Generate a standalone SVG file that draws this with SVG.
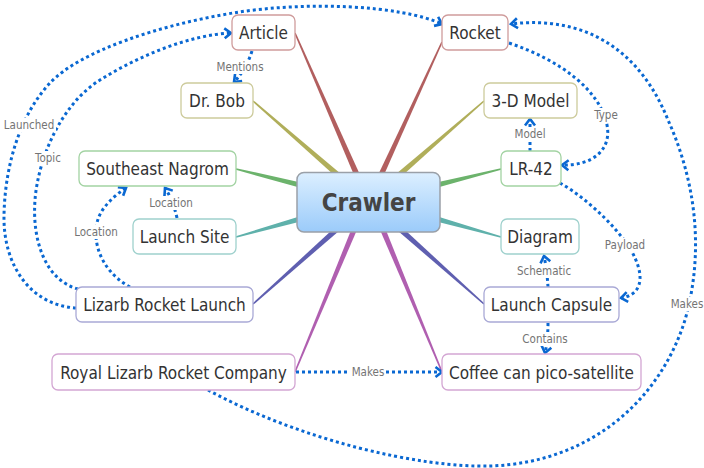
<svg xmlns="http://www.w3.org/2000/svg" width="704" height="468" viewBox="0 0 704 468">
<style>
.n rect{fill:#fff;stroke-width:1.3}
.n text{font-family:'DejaVu Sans Condensed','DejaVu Sans',sans-serif;font-stretch:condensed;font-size:17px;fill:#333;text-anchor:middle}
.c{fill:none;stroke:#0a68d2;stroke-width:3;stroke-dasharray:3 3;marker-end:url(#ah)}
.lb rect{fill:#fff}
.lb text{font-family:'DejaVu Sans Condensed','DejaVu Sans',sans-serif;font-stretch:condensed;font-size:11.5px;fill:#747474;text-anchor:middle}
.red{stroke:#cf9c9c}.olv{stroke:#cdcb9c}.grn{stroke:#a3d3a3}.tea{stroke:#9fd1cd}.pur{stroke:#a9a9d6}.mag{stroke:#d3a6d3}
</style>
<defs>
<linearGradient id="cg" x1="0" y1="0" x2="0" y2="1">
<stop offset="0" stop-color="#dcefff"/><stop offset="1" stop-color="#9bcbfa"/>
</linearGradient>
<marker id="ah" markerUnits="userSpaceOnUse" markerWidth="14" markerHeight="14" viewBox="0 0 14 14" refX="10" refY="7" orient="auto">
<path d="M3.5,2 L10,7 L3.5,12" fill="none" stroke="#0a68d2" stroke-width="2.6"/>
</marker>
</defs>
<rect width="704" height="468" fill="#fff"/>
<g id="spokes">
<polygon fill="#b25f5f" points="294.3,33.3 354.5,176.2 359.5,173.8 295.7,32.7"/>
<polygon fill="#b25f5f" points="441.3,41.7 378.5,173.9 383.5,176.1 442.7,42.3"/>
<polygon fill="#b0ae5a" points="252.5,101.6 336.2,177 339.8,173 253.5,100.4"/>
<polygon fill="#b0ae5a" points="483.5,100.4 397.2,173 400.8,177 484.5,101.6"/>
<polygon fill="#6cb36c" points="235.8,169.8 299.3,187.6 300.7,182.4 236.2,168.2"/>
<polygon fill="#6cb36c" points="500.8,168.2 436.3,182.4 437.7,187.6 501.2,169.8"/>
<polygon fill="#5fb1ab" points="236.2,237.8 300.7,221.6 299.3,216.4 235.8,236.2"/>
<polygon fill="#5fb1ab" points="501.2,236.2 437.7,216.4 436.3,221.6 500.8,237.8"/>
<polygon fill="#5f5fb0" points="253.5,304.6 337.8,232 334.2,228 252.5,303.4"/>
<polygon fill="#5f5fb0" points="484.5,303.4 402.8,228 399.2,232 483.5,304.6"/>
<polygon fill="#b05fb0" points="295.7,372.3 356.5,231 351.5,229 294.3,371.7"/>
<polygon fill="#b05fb0" points="442.7,371.7 385.5,229 380.5,231 441.3,372.3"/>
</g>
<g id="connectors">
<path class="c" d="M252,51 Q246,70 234,82"/>
<path class="c" d="M76,308 C30,305 3,265 4,215 C5,165 20,115 50,83 C80,51 160,25 233,13 C306,1 400,5 442,24"/>
<path class="c" d="M78,289 C45,280 32,240 35,200 C38,160 60,105 100,80 C140,55 190,35 231,33"/>
<path class="c" d="M130,287 C95,268 88,228 104,208 C110,200 118,193 126,188"/>
<path class="c" d="M177,218 Q173,200 165,188"/>
<path class="c" d="M509,43 C560,60 600,90 607,125 C612,150 592,166 562,165"/>
<path class="c" d="M530,151 L530,119"/>
<path class="c" d="M560,183 C590,200 625,235 635,258 C645,280 640,295 621,298"/>
<path class="c" d="M548,287 Q547,270 544,256"/>
<path class="c" d="M548,323 Q548,340 545,353"/>
<path class="c" d="M296,372 L442,372"/>
<path class="c" d="M208,390 C300,440 420,468 490,466 C590,463 660,400 685,320 C705,250 695,180 668,120 C640,50 585,15 511,24"/>
<g class="lb">
<rect x="215" y="60" width="50" height="14"/><text x="240" y="71">Mentions</text>
<rect x="592" y="108" width="28" height="14"/><text x="606" y="119">Type</text>
<rect x="513" y="127" width="34" height="14"/><text x="530" y="138">Model</text>
<rect x="3" y="118" width="53" height="14"/><text x="29" y="129">Launched</text>
<rect x="33" y="151" width="30" height="14"/><text x="48" y="162">Topic</text>
<rect x="73" y="225" width="46" height="14"/><text x="96" y="236">Location</text>
<rect x="148" y="196" width="46" height="14"/><text x="171" y="207">Location</text>
<rect x="603" y="238" width="44" height="14"/><text x="625" y="249">Payload</text>
<rect x="516" y="264" width="56" height="14"/><text x="544" y="275">Schematic</text>
<rect x="521" y="332" width="48" height="14"/><text x="545" y="343">Contains</text>
<rect x="350" y="365" width="36" height="14"/><text x="368" y="376">Makes</text>
<rect x="669" y="297" width="35" height="14"/><text x="687" y="308">Makes</text>
</g>
</g>
<g id="crawler">
<rect x="297" y="172.5" width="143" height="59.5" rx="7" fill="url(#cg)" stroke="#9aa0a8" stroke-width="1.5"/>
<text x="368.5" y="211" font-family="'DejaVu Sans Condensed','DejaVu Sans',sans-serif" font-stretch="condensed" font-weight="bold" font-size="24" fill="#444" text-anchor="middle">Crawler</text>
</g>
<g id="article" class="n"><rect class="red" x="232" y="15" width="63" height="35" rx="6"/><text x="263.5" y="39">Article</text></g>
<g id="rocket" class="n"><rect class="red" x="442" y="15" width="66" height="35" rx="6"/><text x="475" y="39">Rocket</text></g>
<g id="drbob" class="n"><rect class="olv" x="181" y="83" width="72" height="35" rx="6"/><text x="217" y="107">Dr. Bob</text></g>
<g id="model3d" class="n"><rect class="olv" x="484" y="83" width="93" height="35" rx="6"/><text x="530.5" y="107">3-D Model</text></g>
<g id="nagrom" class="n"><rect class="grn" x="79" y="151" width="157" height="35" rx="6"/><text x="157.5" y="175">Southeast Nagrom</text></g>
<g id="lr42" class="n"><rect class="grn" x="501" y="151" width="60" height="35" rx="6"/><text x="531" y="175">LR-42</text></g>
<g id="launchsite" class="n"><rect class="tea" x="133" y="219" width="103" height="35" rx="6"/><text x="184.5" y="243">Launch Site</text></g>
<g id="diagram" class="n"><rect class="tea" x="501" y="219" width="78" height="35" rx="6"/><text x="540" y="243">Diagram</text></g>
<g id="launch" class="n"><rect class="pur" x="76" y="287" width="177" height="35" rx="6"/><text x="164.5" y="311">Lizarb Rocket Launch</text></g>
<g id="capsule" class="n"><rect class="pur" x="484" y="287" width="135" height="35" rx="6"/><text x="551.5" y="311">Launch Capsule</text></g>
<g id="company" class="n"><rect class="mag" x="52" y="354" width="243" height="36" rx="6"/><text x="173.5" y="378.5">Royal Lizarb Rocket Company</text></g>
<g id="coffee" class="n"><rect class="mag" x="442" y="354" width="199" height="36" rx="6"/><text x="541.5" y="378.5">Coffee can pico-satellite</text></g>
</svg>
